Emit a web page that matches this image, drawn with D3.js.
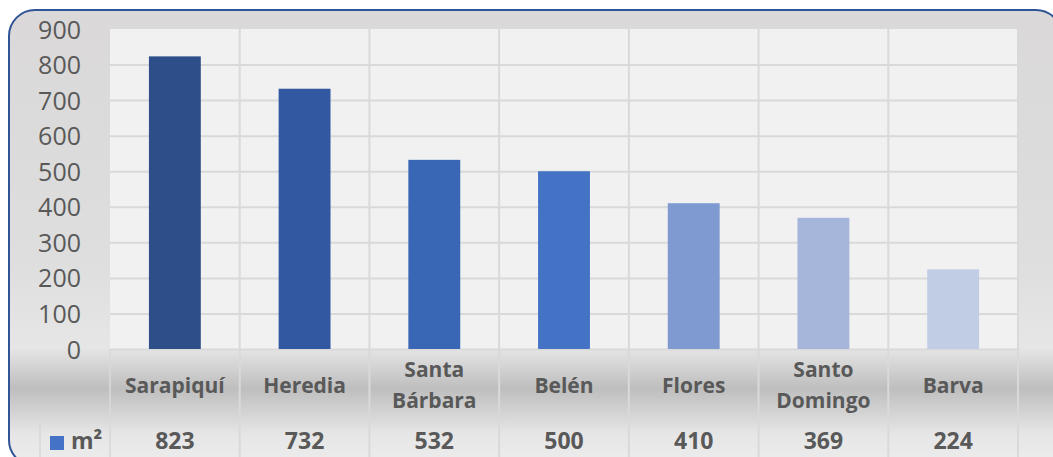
<!DOCTYPE html>
<html><head><meta charset="utf-8">
<script src="https://cdn.jsdelivr.net/npm/d3@7"></script>
<style>html,body{margin:0;padding:0;background:#fff;overflow:hidden}</style>
</head><body>
<svg id="c" width="1053" height="457"></svg>
<script>
const categories = ["Sarapiquí", "Heredia", "Santa Bárbara", "Belén", "Flores", "Santo Domingo", "Barva"];
const labelLines = [["Sarapiquí"], ["Heredia"], ["Santa", "Bárbara"], ["Belén"], ["Flores"], ["Santo", "Domingo"], ["Barva"]];
const values = [823, 732, 532, 500, 410, 369, 224];
const barColors = ["#2E4E8A", "#3358A2", "#3A66B6", "#4472C4", "#7F99D1", "#A6B5DA", "#C1CCE5"];
const seriesName = "m²";
const yTicks = [0, 100, 200, 300, 400, 500, 600, 700, 800, 900];

const svg = d3.select("#c");
const font = "'Open Sans', sans-serif";
const txt = "#595959";
const grid = "#D9D9D9";

const plot = {left: 110, right: 1018, top: 29, bottom: 349};
const tableBottom = 470, rowSplit = 423;

const defs = svg.append("defs");
const g = defs.append("linearGradient").attr("id", "bg").attr("x1", 0).attr("y1", 0).attr("x2", 0).attr("y2", 1);
[[0, "#DAD8D8"], [0.55, "#DEDEDE"], [0.74, "#E6E6E6"], [0.83, "#BEBEBE"], [0.93, "#E6E6E6"], [1, "#EDEDED"]]
  .forEach(([o, c]) => g.append("stop").attr("offset", o).attr("stop-color", c));

svg.append("rect").attr("x", 9).attr("y", 10).attr("width", 1053).attr("height", 456)
  .attr("rx", 26).attr("ry", 26).attr("fill", "url(#bg)")
  .attr("stroke", "#2F5597").attr("stroke-width", 2);

const x = d3.scaleBand().domain(categories).range([plot.left, plot.right]).paddingInner(0.6).paddingOuter(0.3);
const y = d3.scaleLinear().domain([0, 900]).range([plot.bottom, plot.top]);
const step = x.step();

svg.append("rect").attr("x", plot.left).attr("y", plot.top).attr("width", plot.right - plot.left)
  .attr("height", plot.bottom - plot.top).attr("fill", "#F1F1F1");

// horizontal gridlines via axis
const ga = svg.append("g").attr("transform", `translate(${plot.left},0)`)
  .call(d3.axisLeft(y).tickValues(yTicks).tickSize(-(plot.right - plot.left)).tickFormat(""));
ga.select(".domain").remove();
ga.selectAll("line").attr("stroke", grid).attr("stroke-width", 2);
ga.selectAll(".tick").filter(d => d === 900).remove();

// vertical separators (plot + table)
const bounds = categories.map(c => x(c) - x.paddingOuter() * step * 0 - (x.step() - x.bandwidth()) / 2);
bounds.push(plot.right);
svg.append("g").selectAll("line").data(bounds.slice(1)).join("line")
  .attr("x1", d => d).attr("x2", d => d).attr("y1", plot.top).attr("y2", tableBottom)
  .attr("stroke", grid).attr("stroke-width", 2);
svg.append("line").attr("x1", plot.left).attr("x2", plot.left).attr("y1", plot.bottom).attr("y2", tableBottom)
  .attr("stroke", grid).attr("stroke-width", 2).attr("opacity", 0.8);
svg.append("line").attr("x1", 40).attr("x2", 40).attr("y1", rowSplit).attr("y2", tableBottom)
  .attr("stroke", grid).attr("stroke-width", 2).attr("opacity", 0.8);
svg.append("line").attr("x1", 40).attr("x2", plot.right).attr("y1", rowSplit).attr("y2", rowSplit)
  .attr("stroke", "#DCDCDC").attr("stroke-width", 1).attr("opacity", 0.6);

// bars
svg.append("g").selectAll("rect").data(categories).join("rect")
  .attr("x", d => x(d)).attr("width", x.bandwidth())
  .attr("y", (d, i) => y(values[i])).attr("height", (d, i) => y(0) - y(values[i]))
  .attr("fill", (d, i) => barColors[i]);

// y axis labels
const yl = svg.append("g").attr("transform", "translate(81,0)")
  .call(d3.axisLeft(y).tickValues(yTicks).tickSize(0).tickPadding(0));
yl.select(".domain").remove();
yl.selectAll("text").attr("font-family", font).attr("font-size", 25).attr("fill", txt)
  .attr("dy", "0.36em");

// category labels
const cl = svg.append("g").selectAll("text").data(categories).join("text")
  .attr("text-anchor", "middle").attr("font-family", font).attr("font-weight", "bold")
  .attr("font-size", 21).attr("fill", txt);
cl.each(function (d, i) {
  const lines = labelLines[i];
  const cx = x(d) + x.bandwidth() / 2;
  const base = lines.length === 1 ? [393] : [377, 408];
  lines.forEach((l, k) => d3.select(this).append("tspan").attr("x", cx).attr("y", base[k]).text(l));
});

// value row
svg.append("g").selectAll("text").data(categories).join("text")
  .attr("x", d => x(d) + x.bandwidth() / 2).attr("y", 449)
  .attr("text-anchor", "middle").attr("font-family", font).attr("font-weight", "bold")
  .attr("font-size", 23).attr("fill", txt).text((d, i) => values[i]);

// legend key
svg.append("rect").attr("x", 50).attr("y", 436).attr("width", 14).attr("height", 14).attr("fill", "#4472C4");
svg.append("text").attr("x", 71).attr("y", 449).attr("font-family", font).attr("font-weight", "bold")
  .attr("font-size", 23).attr("fill", txt).text(seriesName);
</script>
</body></html>
